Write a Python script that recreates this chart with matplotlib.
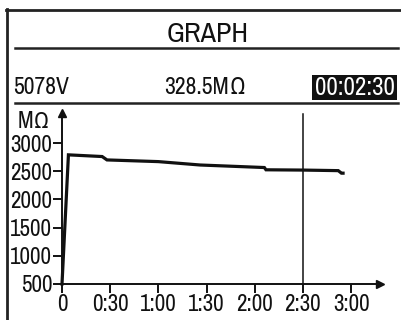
import matplotlib
matplotlib.use("Agg")
import matplotlib.pyplot as plt
from matplotlib.lines import Line2D
from matplotlib.patches import Rectangle

plt.rcParams["font.family"] = ["Pragati Narrow", "Archivo Narrow", "Liberation Sans", "DejaVu Sans"]

tiempo_s = [0, 4, 25, 28, 60, 86, 126, 127, 150, 172, 174, 175]
resist_mohm = [500, 2790, 2760, 2700, 2670, 2610, 2565, 2525, 2520, 2510, 2465, 2465]

x_ticks = [0, 30, 60, 90, 120, 150, 180]
x_labels = ["0", "0:30", "1:00", "1:30", "2:00", "2:30", "3:00"]
y_ticks = [500, 1000, 1500, 2000, 2500, 3000]
cursor_s = 150

titulo = "GRAPH"
tension = "5078V"
lectura = "328.5M\u03a9"
crono = "00:02:30"
unidad = "M\u03a9"

W, H = 402, 320
fig = plt.figure(figsize=(W / 100, H / 100), dpi=100)


def fx(px):
    return px / W


def fy(py):
    return 1 - py / H


# ── Marco y separadores ──
fig.add_artist(Line2D([fx(7), fx(7)], [fy(9), fy(322)], color="#222", lw=2))
fig.add_artist(Line2D([fx(6), fx(405)], [fy(10), fy(10)], color="#222", lw=2))
fig.add_artist(Line2D([fx(15), fx(398)], [fy(48), fy(48)], color="#222", lw=1.8))
fig.add_artist(Line2D([fx(15), fx(398)], [fy(103), fy(103)], color="#222", lw=1.8))

# ── Cabecera ──
fig.text(fx(208), fy(34), titulo, ha="center", va="center", fontsize=22, color="#111")
fig.text(fx(13), fy(87), tension, ha="left", va="center", fontsize=18.5, color="#111")
fig.text(fx(206), fy(87), lectura, ha="center", va="center", fontsize=18.5, color="#111")
fig.add_artist(Rectangle((fx(312), fy(100)), fx(85), 25 / H, color="#111", lw=0))
fig.text(fx(354.5), fy(87.5), crono, ha="center", va="center", fontsize=19.5, color="white")

# ── Grafico ──
ax = fig.add_axes([fx(62), fy(284), 318 / W, 171 / H])
ax.set_xlim(0, 198)
ax.set_ylim(500, 3532)
ax.patch.set_alpha(0)

ax.plot(tiempo_s, resist_mohm, color="#111", lw=2.3, solid_joinstyle="miter", clip_on=False)
ax.axvline(cursor_s, ymin=0, ymax=0.994, color="#111", lw=1.1)

for s in ["top", "right"]:
    ax.spines[s].set_visible(False)
for s in ["left", "bottom"]:
    ax.spines[s].set_linewidth(1.4)
    ax.spines[s].set_color("#111")
ax.plot(1, 0, ">", color="#111", ms=6, transform=ax.transAxes, clip_on=False)
ax.plot(0, 1, "^", color="#111", ms=6, transform=ax.transAxes, clip_on=False)

ax.set_xticks(x_ticks)
ax.set_xticklabels(x_labels)
ax.set_yticks(y_ticks)
ax.tick_params(axis="both", direction="out", length=6.5, width=1.4, color="#111",
               labelsize=18, labelcolor="#111")
ax.tick_params(axis="y", pad=0.5)
ax.tick_params(axis="x", pad=1)

fig.text(fx(34), fy(121), unidad, ha="center", va="center", fontsize=18, color="#111")

fig.savefig("out.png", dpi=100, facecolor="white")
